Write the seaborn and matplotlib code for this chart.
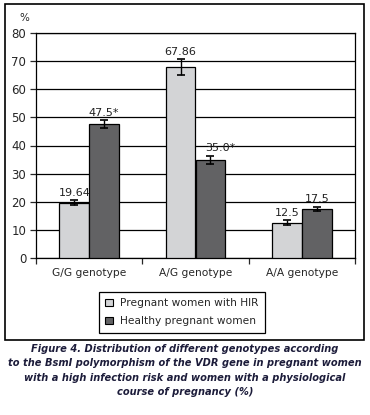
import numpy as np
import pandas as pd
import seaborn as sns
import matplotlib.pyplot as plt

# data
genotypes = ["G/G genotype", "A/G genotype", "A/A genotype"]
groups = ["Pregnant women with HIR", "Healthy pregnant women"]
hir_values = [19.64, 67.86, 12.5]
healthy_values = [47.5, 35.0, 17.5]
hir_err = [0.9, 2.9, 0.9]
healthy_err = [1.4, 1.4, 0.8]
hir_labels = ["19.64", "67.86", "12.5"]
healthy_labels = ["47.5*", "35.0*", "17.5"]

df = pd.DataFrame({
    "genotype": genotypes * 2,
    "group": [groups[0]] * 3 + [groups[1]] * 3,
    "value": hir_values + healthy_values,
})

sns.set_style("white")
plt.rcParams["font.family"] = ["DejaVu Sans"]

fig = plt.figure(figsize=(3.7, 4.15), dpi=100)
ax = fig.add_axes([36 / 370, 1 - 258 / 415, (355 - 36) / 370, (258 - 33) / 415])

sns.barplot(data=df, x="genotype", y="value", hue="group", order=genotypes,
            hue_order=groups, palette=["#d3d4d6", "#626264"], width=0.56,
            edgecolor="black", linewidth=0.9, errorbar=None, ax=ax, zorder=3)

ax.set_ylim(0, 80)
ax.set_xlim(-0.5, 2.5)
ax.set_yticks(range(0, 81, 10))
ax.yaxis.grid(True, color="black", linewidth=0.9, zorder=0)
ax.set_axisbelow(True)
ax.set_xlabel("")
ax.set_ylabel("")
for s in ax.spines.values():
    s.set_color("black")
    s.set_linewidth(0.9)
ax.tick_params(axis="y", left=True, length=4, width=0.9, labelsize=8.5, pad=3)
ax.tick_params(axis="x", bottom=False, labelsize=7.7, pad=4)
# x ticks at category boundaries
ax.set_xticks([-0.5, 0.5, 1.5, 2.5], minor=True)
ax.tick_params(axis="x", which="minor", bottom=True, length=4, width=0.9)

ax.text(-0.02, 1.045, "%", transform=ax.transAxes, fontsize=7.5, ha="right", va="bottom")

bars = ax.patches[:6]
vals = hir_values + healthy_values
errs = hir_err + healthy_err
labels = hir_labels + healthy_labels
for i, (b, v, e, t) in enumerate(zip(bars, vals, errs, labels)):
    cx = b.get_x() + b.get_width() / 2
    ax.errorbar(cx, v, yerr=e, color="black", capsize=3, elinewidth=1,
                capthick=1.2, zorder=4)
    dx = 0.09 if t == "35.0*" else 0
    ax.text(cx + dx, v + e + 0.8, t, ha="center", va="bottom", fontsize=8,
            color="#222222", zorder=5)

ax.get_legend().remove()
handles = [plt.Rectangle((0, 0), 1, 1, facecolor=c, edgecolor="black", linewidth=0.8)
           for c in ["#d3d4d6", "#626264"]]
leg = fig.legend(handles, groups, loc="upper left",
                 bbox_to_anchor=(99 / 370, 1 - 292 / 415), fancybox=False,
                 edgecolor="black", framealpha=1, handlelength=0.7,
                 handleheight=0.7, handletextpad=0.7, labelspacing=0.75,
                 borderpad=0.6, borderaxespad=0, prop={"size": 7.7})
leg.get_frame().set_linewidth(0.9)

# outer frame around chart
frame = plt.Rectangle((5 / 370, 1 - 340 / 415), 359 / 370, 336 / 415,
                      transform=fig.transFigure, fill=False, edgecolor="black",
                      linewidth=1.2)
fig.patches.append(frame)

caption = ("Figure 4. Distribution of different genotypes according\n"
           "to the BsmI polymorphism of the VDR gene in pregnant women\n"
           "with a high infection risk and women with a physiological\n"
           "course of pregnancy (%)")
fig.text(0.5, 1 - 344 / 415, caption, ha="center", va="top", fontsize=7.1,
         fontweight="bold", fontstyle="italic", color="#1c1c3a",
         linespacing=1.55)

fig.savefig("out.png", dpi=100, facecolor="white")
